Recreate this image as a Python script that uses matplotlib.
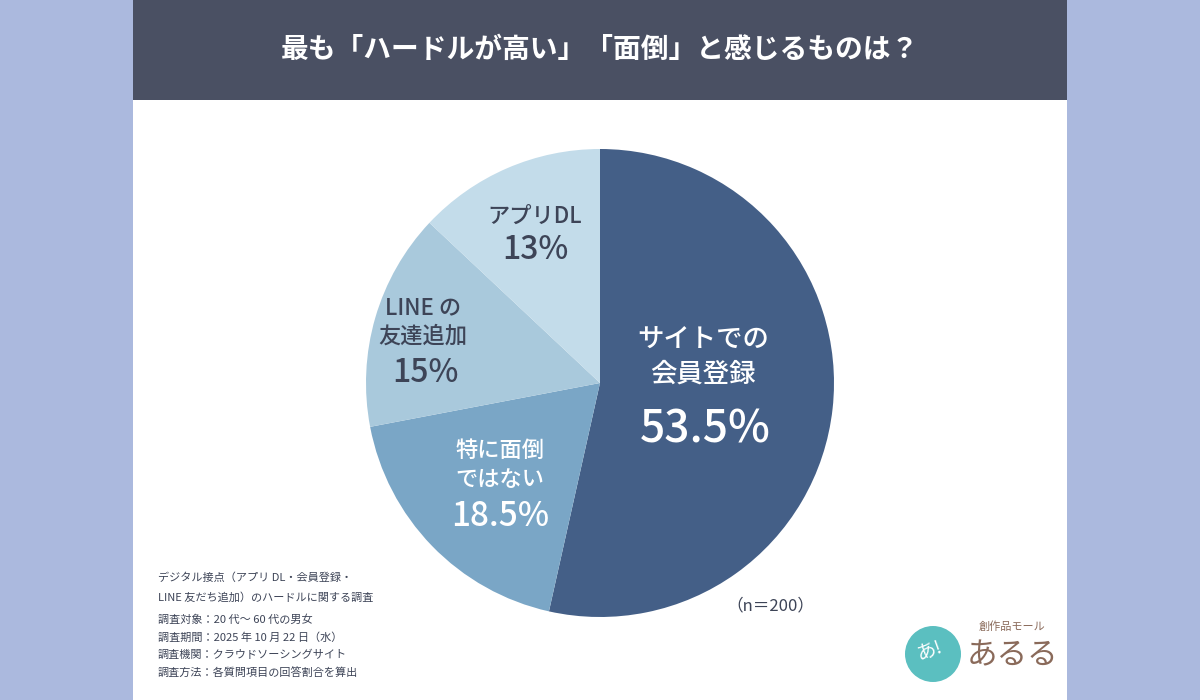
import matplotlib.pyplot as plt
from matplotlib.patches import Rectangle, Circle
from matplotlib.transforms import IdentityTransform

plt.rcParams['font.family'] = ['Noto Sans CJK JP', 'DejaVu Sans']

# データ
labels = ['サイトでの\n会員登録', '特に面倒\nではない', 'LINE の\n友達追加', 'アプリDL']
values = [53.5, 18.5, 15, 13]
pct_text = ['53.5%', '18.5%', '15%', '13%']
colors = ['#445f87', '#7aa6c6', '#a9c9dc', '#c3dcea']
title = '最も「ハードルが高い」「面倒」と感じるものは？'
notes_head = ['デジタル接点（アプリ DL・会員登録・', 'LINE 友だち追加）のハードルに関する調査']
notes = ['調査対象：20 代～ 60 代の男女',
         '調査期間：2025 年 10 月 22 日（水）',
         '調査機関：クラウドソーシングサイト',
         '調査方法：各質問項目の回答割合を算出']

W, H = 1200, 700
fig = plt.figure(figsize=(12, 7), dpi=100)
fig.patch.set_facecolor('#abb9de')

# 白パネルとヘッダー
fig.patches.append(Rectangle((133 / W, 0), (1067 - 133) / W, 1, transform=fig.transFigure,
                             facecolor='white', edgecolor='none', zorder=-2))
fig.patches.append(Rectangle((133 / W, 1 - 100 / H), (1067 - 133) / W, 100 / H, transform=fig.transFigure,
                             facecolor='#4a5063', edgecolor='none', zorder=-1))
fig.text(0.5, 1 - 50 / H, title, color='white', fontsize=20, fontweight='bold',
         ha='center', va='center')

# 円グラフ
cx, cy, R = 600, 383, 234
ax = fig.add_axes([(cx - R) / W, (H - cy - R) / H, 2 * R / W, 2 * R / H])
ax.pie(values, colors=colors, startangle=90, counterclock=False, radius=1,
       wedgeprops=dict(linewidth=0))
ax.set_xlim(-1, 1)
ax.set_ylim(-1, 1)
ax.set_aspect('equal')
ax.axis('off')

# ラベル位置（ピクセル基準で中心からの距離）
lab_pos = [(703, 357), (500, 465), (423, 322), (535, 216)]
pct_pos = [(705, 430), (500, 517), (425, 373), (535, 250)]
lab_size = [19, 16, 16, 16]
pct_size = [32, 24, 23, 23]
txt_col = ['white', 'white', '#3d4457', '#3d4457']
for i in range(len(values)):
    lx, ly = lab_pos[i]
    ax.text((lx - cx) / R, (cy - ly) / R, labels[i], ha='center', va='center',
            fontsize=lab_size[i], color=txt_col[i], linespacing=1.3, fontweight='medium')
    px, py = pct_pos[i]
    ax.text((px - cx) / R, (cy - py) / R, pct_text[i], ha='center', va='center',
            fontsize=pct_size[i], color=txt_col[i], fontweight='medium')

fig.text(770 / W, 1 - 606 / H, '（n＝200）', ha='center', va='center', fontsize=12, color='#3d4457')

# 注記
ys = [578, 597]
for t, y in zip(notes_head, ys):
    fig.text(158 / W, 1 - y / H, t, ha='left', va='center', fontsize=8, color='#3d4457')
for i, t in enumerate(notes):
    fig.text(158 / W, 1 - (620 + i * 17.5) / H, t, ha='left', va='center', fontsize=8, color='#3d4457')

# ロゴ（簡略）
fig.patches.append(Circle((933, H - 654), 28, transform=IdentityTransform(),
                          facecolor='#5bbfc0', edgecolor='none'))
fig.text(930 / W, 1 - 650 / H, 'あ!', ha='center', va='center', fontsize=14, color='white', rotation=20)
fig.text(1012 / W, 1 - 627 / H, '創作品モール', ha='center', va='center', fontsize=8, color='#8a6a5a')
fig.text(1012 / W, 1 - 656 / H, 'あるる', ha='center', va='center', fontsize=22, color='#8a6a5a')

fig.savefig('out.png', dpi=100, facecolor=fig.get_facecolor())
